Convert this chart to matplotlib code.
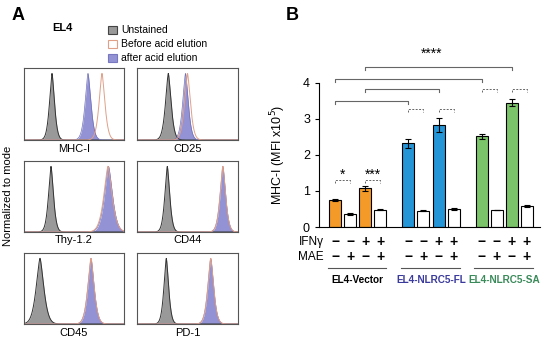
import matplotlib.pyplot as plt
import numpy as np

plt.rcParams['font.family'] = ['Liberation Sans', 'DejaVu Sans']

# ---- panel A data (peak position / width, fraction of the box) ----
markers = ['MHC-I', 'CD25', 'Thy-1.2', 'CD44', 'CD45', 'PD-1']
unst_pos = [0.28, 0.31, 0.27, 0.30, 0.16, 0.29]
unst_wid = [0.036, 0.040, 0.036, 0.035, 0.055, 0.034]
before_pos = [0.78, 0.50, 0.84, 0.85, 0.67, 0.73]
before_wid = [0.042, 0.042, 0.060, 0.040, 0.046, 0.042]
after_pos = [0.64, 0.48, 0.845, 0.85, 0.67, 0.73]
after_wid = [0.042, 0.040, 0.058, 0.040, 0.046, 0.042]

# ---- panel B data ----
groups = ['EL4-Vector', 'EL4-NLRC5-FL', 'EL4-NLRC5-SA']
group_colors = ['#f39a28', '#2495d6', '#7cc46a']
group_text = ['black', '#3a3a9c', '#3a8a5a']
mfi = [[0.75, 0.35, 1.07, 0.48],
       [2.32, 0.45, 2.83, 0.50],
       [2.52, 0.47, 3.45, 0.58]]
err = [[0.02, 0.03, 0.06, 0.02],
       [0.12, 0.01, 0.20, 0.02],
       [0.07, 0.01, 0.10, 0.02]]
ifng = ['−', '−', '+', '+']
mae = ['−', '+', '−', '+']

W, H = 550, 344
fig = plt.figure(figsize=(5.5, 3.44), dpi=100)


def px(x0, y0, x1, y1):
    return [x0 / W, 1 - y1 / H, (x1 - x0) / W, (y1 - y0) / H]


def peak(x, c, w):
    # sharp-topped flow histogram shape
    return np.exp(-(np.abs(x - c) / w) ** 1.5)


# ================= panel A =================
fig.text(18 / W, 1 - 15 / H, 'A', fontsize=13, fontweight='bold', ha='center', va='center')
fig.text(62 / W, 1 - 28 / H, 'EL4', fontsize=8, fontweight='bold', ha='center', va='center')

leg = [('Unstained', '#999999', '#444444'),
       ('Before acid elution', 'white', '#e0a088'),
       ('after acid elution', '#9292d4', '#7878c0')]
for i, (lab, fc, ec) in enumerate(leg):
    yy = 30 + i * 14
    fig.patches.append(plt.Rectangle((108 / W, 1 - (yy + 3.5) / H), 9 / W, 7 / H,
                                     facecolor=fc, edgecolor=ec, lw=0.8,
                                     transform=fig.transFigure))
    fig.text(121 / W, 1 - yy / H, lab, fontsize=7.5, va='center', ha='left')

fig.text(8 / W, 1 - 196 / H, 'Normalized to mode', rotation=90, fontsize=8,
         ha='center', va='center')

cols = [(24, 124), (137, 238)]
rows = [(68, 140, 149), (161, 232, 240), (253, 324, 333)]
xs = np.linspace(0, 1, 500)
for k, m in enumerate(markers):
    c0, c1 = cols[k % 2]
    r0, r1, ly = rows[k // 2]
    ax = fig.add_axes(px(c0, r0, c1, r1))
    u = peak(xs, unst_pos[k], unst_wid[k])
    b = peak(xs, before_pos[k], before_wid[k])
    a = peak(xs, after_pos[k], after_wid[k])
    ax.fill_between(xs, 0, u, color='#999999', lw=0)
    ax.plot(xs, u, color='#333333', lw=0.7)
    ax.fill_between(xs, 0, a, color='#9292d4', lw=0)
    ax.plot(xs, a, color='#7070b8', lw=0.5)
    ax.plot(xs, b, color='#e0a088', lw=0.7)
    ax.set_xlim(0, 1)
    ax.set_ylim(0, 1.08)
    ax.set_xticks([])
    ax.set_yticks([])
    for s in ax.spines.values():
        s.set_color('#555555')
        s.set_linewidth(0.8)
    fig.text((c0 + c1) / 2 / W, 1 - ly / H, m, fontsize=8, ha='center', va='center')

# ================= panel B =================
fig.text(292 / W, 1 - 15 / H, 'B', fontsize=13, fontweight='bold', ha='center', va='center')

axb = fig.add_axes(px(319, 47, 540, 227))
offsets = [0, 4.85, 9.7]
for g in range(3):
    xpos = offsets[g] + np.arange(4)
    cols_g = [group_colors[g], 'white', group_colors[g], 'white']
    axb.bar(xpos, mfi[g], width=0.8, color=cols_g, edgecolor='black', lw=0.8,
            yerr=err[g], capsize=2.5, error_kw=dict(lw=0.8, capthick=0.8), zorder=2)
    for j in range(4):
        axb.text(xpos[j], -0.41, ifng[j], ha='center', va='center', fontsize=10,
                 fontweight='bold', clip_on=False)
        axb.text(xpos[j], -0.82, mae[j], ha='center', va='center', fontsize=10,
                 fontweight='bold', clip_on=False)
    axb.plot([xpos[0] - 0.5, xpos[3] + 0.4], [-1.13, -1.13], color='#555555', lw=0.8,
             clip_on=False)
    axb.text(xpos[0] + 1.5, -1.47, groups[g], ha='center', va='center', fontsize=7.2,
             fontweight='bold', color=group_text[g], clip_on=False)

axb.text(-0.75, -0.41, 'IFNγ', ha='right', va='center', fontsize=8.5, clip_on=False)
axb.text(-0.75, -0.82, 'MAE', ha='right', va='center', fontsize=8.5, clip_on=False)

# dashed small brackets
small = [(0, 1, 1.30), (2, 3, 1.30), (4.85, 5.85, 3.27), (6.85, 7.85, 3.27),
         (9.7, 10.7, 3.82), (11.7, 12.7, 3.82)]
for x1, x2, y in small:
    axb.plot([x1, x1, x2, x2], [y - 0.07, y, y, y - 0.07], color='#666666', lw=0.7,
             ls=(0, (2, 1.5)))
axb.text(0.5, 1.45, '*', ha='center', va='center', fontsize=10)
axb.text(2.5, 1.45, '***', ha='center', va='center', fontsize=10)

# solid large brackets
big = [(0, 4.85, 3.5), (2, 6.85, 3.82), (0, 9.7, 4.12), (2, 11.7, 4.45)]
for x1, x2, y in big:
    axb.plot([x1, x1, x2, x2], [y - 0.08, y, y, y - 0.08], color='#666666', lw=0.8)
axb.text(6.4, 4.82, '****', ha='center', va='center', fontsize=10)

axb.set_xlim(-1.07, 13.57)
axb.set_ylim(0, 5)
axb.set_yticks([0, 1, 2, 3, 4])
axb.tick_params(axis='y', labelsize=9, length=3, width=0.8)
axb.set_xticks([])
axb.spines['left'].set_bounds(0, 4)
axb.spines['top'].set_visible(False)
axb.spines['right'].set_visible(False)
axb.spines['left'].set_linewidth(0.8)
axb.spines['bottom'].set_linewidth(0.8)
axb.set_ylabel('MHC-I (MFI x10$^5$)', fontsize=9, labelpad=3)
axb.yaxis.set_label_coords(-0.14, 0.4)

fig.savefig('out.png', dpi=100)
